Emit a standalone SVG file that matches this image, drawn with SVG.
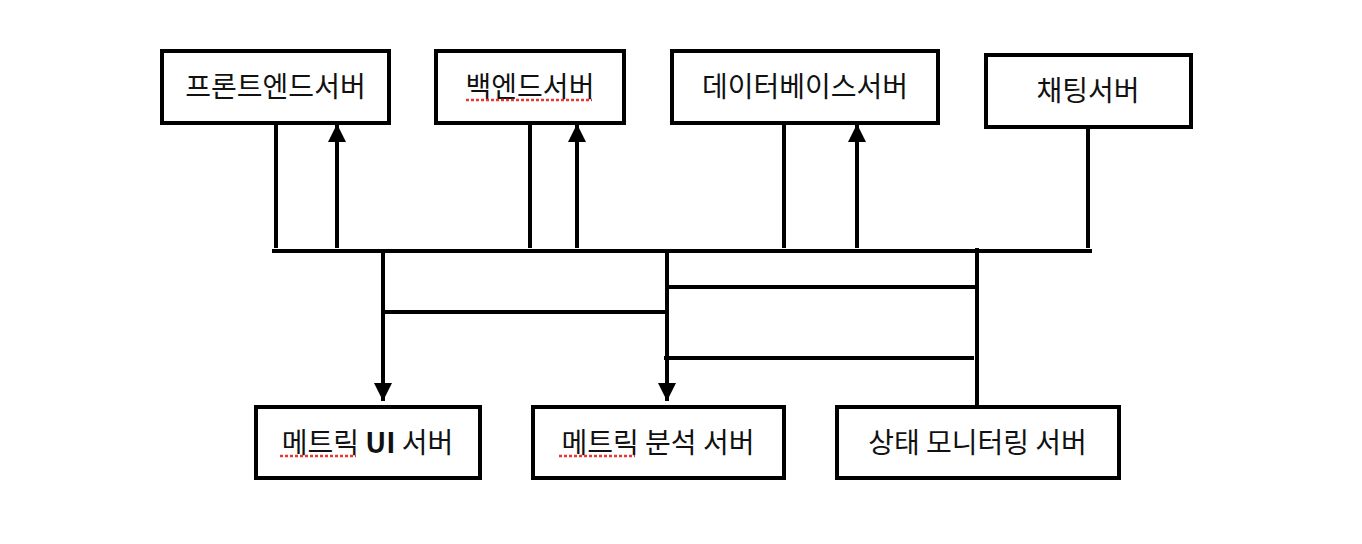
<svg xmlns="http://www.w3.org/2000/svg" width="1362" height="544" viewBox="0 0 1362 544">
<defs>
<style>
.box{fill:#fff;stroke:#000;stroke-width:4}
.t{font-family:"Noto Sans CJK KR","Noto Sans",sans-serif;font-size:28px;fill:#111;text-anchor:middle}
.ln{stroke:#000;stroke-width:4;fill:none}
.sq{stroke:#e53935;stroke-width:2.5;stroke-dasharray:3 2;fill:none}
</style>
<marker id="ah" viewBox="0 0 10 10" refX="10" refY="5" markerWidth="4.6" markerHeight="4.6" orient="auto" markerUnits="strokeWidth">
<path d="M0,0 L10,5 L0,10 z" fill="#000"/>
</marker>
</defs>
<rect width="1362" height="544" fill="#fff"/>
<g id="connectors">
<line class="ln" x1="272" y1="251" x2="1092" y2="251"/>
<line class="ln" x1="276" y1="124" x2="276" y2="248"/>
<line class="ln" x1="337" y1="248" x2="337" y2="124" marker-end="url(#ah)"/>
<line class="ln" x1="530" y1="124" x2="530" y2="248"/>
<line class="ln" x1="577" y1="248" x2="577" y2="124" marker-end="url(#ah)"/>
<line class="ln" x1="784" y1="124" x2="784" y2="248"/>
<line class="ln" x1="857" y1="248" x2="857" y2="124" marker-end="url(#ah)"/>
<line class="ln" x1="1088" y1="124" x2="1088" y2="248"/>
<line class="ln" x1="383" y1="251" x2="383" y2="401" marker-end="url(#ah)"/>
<line class="ln" x1="667" y1="251" x2="667" y2="401" marker-end="url(#ah)"/>
<line class="ln" x1="383" y1="312" x2="667" y2="312"/>
<line class="ln" x1="667" y1="287" x2="977" y2="287"/>
<line class="ln" x1="664" y1="358" x2="974" y2="358"/>
<line class="ln" x1="977" y1="248" x2="977" y2="405"/>
</g>
<g id="frontend">
<rect class="box" x="162" y="51" width="227" height="72"/>
<text class="t" x="275.5" y="97">프론트엔드서버</text>
</g>
<g id="backend">
<rect class="box" x="436" y="51" width="188" height="72"/>
<text class="t" x="530" y="97">백엔드서버</text>
<line class="sq" x1="466" y1="100" x2="592" y2="100"/>
</g>
<g id="database">
<rect class="box" x="672" y="51" width="266" height="72"/>
<text class="t" x="805" y="97">데이터베이스서버</text>
</g>
<g id="chat">
<rect class="box" x="986" y="55" width="205" height="72"/>
<text class="t" x="1088" y="101">채팅서버</text>
</g>
<g id="metric-ui">
<rect class="box" x="256" y="407" width="224" height="71"/>
<text class="t" x="367.5" y="453">메트릭 <tspan font-weight="bold">UI</tspan> 서버</text>
<line class="sq" x1="280" y1="456" x2="356" y2="456"/>
</g>
<g id="metric-analysis">
<rect class="box" x="533" y="407" width="251" height="71"/>
<text class="t" x="658" y="453">메트릭 분석 서버</text>
<line class="sq" x1="559" y1="456" x2="635" y2="456"/>
</g>
<g id="status-monitor">
<rect class="box" x="837" y="407" width="282" height="71"/>
<text class="t" x="977.5" y="453">상태 모니터링 서버</text>
</g>
</svg>
